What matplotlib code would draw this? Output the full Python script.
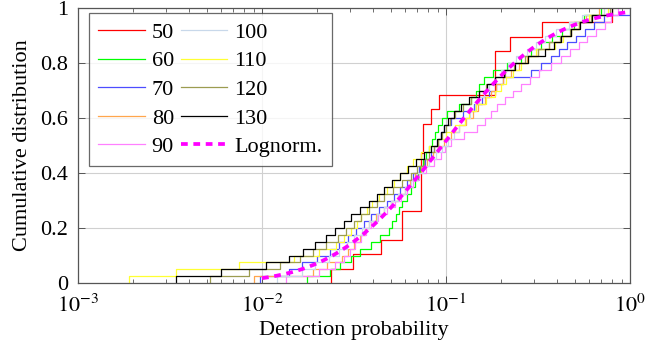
import numpy as np
import matplotlib
matplotlib.use("Agg")
import matplotlib.pyplot as plt
from matplotlib.ticker import LogLocator, NullFormatter, FixedLocator
from math import erf, sqrt

# ---- data: detection-probability samples per series ----
labels = ["50", "60", "70", "80", "90", "100", "110", "120", "130"]

s50 = [0.0237, 0.0313, 0.0444, 0.0577, 0.0577, 0.0730, 0.0730, 0.0730, 0.0730,
       0.0750, 0.0750, 0.0826, 0.092, 0.1845, 0.1845, 0.1845, 0.2228, 0.331, 0.798]

s60 = [0.0175, 0.0235, 0.0265, 0.0305, 0.0340, 0.0390, 0.0440, 0.0490, 0.0510, 0.0535,
       0.0555, 0.0575, 0.0610, 0.0645, 0.0680, 0.0705, 0.0725, 0.0750, 0.0780, 0.0810,
       0.0835, 0.0870, 0.0910, 0.0955, 0.101, 0.118, 0.136, 0.145, 0.152, 0.160,
       0.180, 0.215, 0.255, 0.290, 0.330, 0.375, 0.425, 0.495, 0.560, 0.700]

s70 = [0.0098, 0.0140, 0.0165, 0.0200, 0.0235, 0.0262, 0.0295, 0.0325, 0.0357, 0.0392,
       0.0435, 0.0480, 0.0520, 0.0565, 0.0610, 0.0660, 0.0715, 0.0770, 0.0825, 0.0865,
       0.0905, 0.0945, 0.0980, 0.106, 0.123, 0.142, 0.157, 0.172, 0.186, 0.203,
       0.290, 0.330, 0.370, 0.410, 0.455, 0.510, 0.570, 0.640, 0.720, 1.0]

s80 = [0.0090, 0.0190, 0.0225, 0.0272, 0.0295, 0.0318, 0.0340, 0.0362, 0.0380, 0.0415,
       0.0460, 0.0505, 0.0550, 0.0595, 0.0640, 0.0680, 0.0730, 0.0790, 0.0850, 0.0900,
       0.0970, 0.107, 0.117, 0.129, 0.140, 0.150, 0.162, 0.175, 0.188, 0.205,
       0.225, 0.250, 0.275, 0.315, 0.365, 0.420, 0.475, 0.525, 0.580, 0.680]

s90 = [0.0135, 0.0204, 0.0250, 0.0278, 0.0300, 0.0322, 0.0345, 0.0367, 0.0390, 0.0425,
       0.0475, 0.0525, 0.0570, 0.0615, 0.0665, 0.0715, 0.0775, 0.0860, 0.0935, 0.0990,
       0.106, 0.125, 0.147, 0.163, 0.176, 0.190, 0.208, 0.230, 0.255, 0.285,
       0.320, 0.370, 0.420, 0.470, 0.525, 0.585, 0.650, 0.730, 0.790, 0.860]

s100 = [0.0120, 0.0165, 0.0195, 0.0232, 0.0262, 0.0290, 0.0318, 0.0348, 0.0380, 0.0420,
        0.0460, 0.0505, 0.0550, 0.0600, 0.0645, 0.0695, 0.0750, 0.0810, 0.0880, 0.0950,
        0.102, 0.110, 0.118, 0.127, 0.135, 0.144, 0.152, 0.161, 0.171, 0.185,
        0.200, 0.218, 0.240, 0.275, 0.310, 0.345, 0.395, 0.465, 0.550, 0.720]

s110 = [0.0019, 0.0034, 0.0075, 0.0150, 0.0205, 0.0252, 0.0280, 0.0305, 0.0327, 0.0345,
        0.0372, 0.0398, 0.0435, 0.0475, 0.0520, 0.0565, 0.0615, 0.0665, 0.0730, 0.0810,
        0.0900, 0.100, 0.112, 0.127, 0.134, 0.145, 0.165, 0.185, 0.198, 0.212,
        0.232, 0.255, 0.278, 0.310, 0.390, 0.435, 0.480, 0.530, 0.600, 0.760]

s120 = [0.0052, 0.0085, 0.0125, 0.0160, 0.0190, 0.0222, 0.0258, 0.0285, 0.0315, 0.0346,
        0.0380, 0.0420, 0.0460, 0.0515, 0.0575, 0.0645, 0.0700, 0.0755, 0.0810, 0.0860,
        0.0905, 0.0950, 0.0995, 0.105, 0.112, 0.123, 0.136, 0.151, 0.166, 0.185,
        0.208, 0.235, 0.270, 0.315, 0.365, 0.415, 0.470, 0.530, 0.610, 0.780]

s130 = [0.0034, 0.0060, 0.0105, 0.0140, 0.0168, 0.0195, 0.0222, 0.0250, 0.0278, 0.0306,
        0.0340, 0.0380, 0.0422, 0.0463, 0.0511, 0.0564, 0.0623, 0.0688, 0.0758, 0.0833,
        0.0893, 0.0937, 0.0981, 0.103, 0.110, 0.121, 0.134, 0.151, 0.167, 0.184,
        0.207, 0.237, 0.280, 0.345, 0.386, 0.424, 0.475, 0.537, 0.625, 0.800]

series = [s50, s60, s70, s80, s90, s100, s110, s120, s130]
colors = ["#ff0000", "#00ff00", "#4d4dff", "#ffa64d", "#ff80ff",
          "#c8d8ea", "#ffff33", "#9c9c50", "#000000"]

# lognormal fit (parameters of log10 of detection probability)
logn_mu = -1.02
logn_sigma = 0.465
logn_label = "Lognorm."

xticks = [1e-3, 1e-2, 1e-1, 1e0]
xtick_labels = [r"$10^{-3}$", r"$10^{-2}$", r"$10^{-1}$", r"$10^{0}$"]
yticks = [0, 0.2, 0.4, 0.6, 0.8, 1.0]
ytick_labels = ["0", "0.2", "0.4", "0.6", "0.8", "1"]

# ---- style ----
plt.rcParams["font.family"] = ["Liberation Serif", "DejaVu Serif"]
plt.rcParams["mathtext.fontset"] = "stix"
plt.rcParams["font.size"] = 16

fig = plt.figure(figsize=(6.45, 3.56), dpi=100)
ax = fig.add_axes([78 / 645, 1 - 283 / 356, (630 - 78) / 645, (283 - 8) / 356])

for lab, s, c in zip(labels, series, colors):
    xs = np.sort(np.asarray(s, dtype=float))
    n = len(xs)
    ys = np.arange(1, n + 1) / n
    ax.plot(np.r_[xs[0], xs], np.r_[0.0, ys], drawstyle="steps-post",
            color=c, lw=0.9, label=lab)

pgrid = np.logspace(-2, 0, 200)
Fl = np.array([0.5 * (1 + erf((np.log10(p) - logn_mu) / (logn_sigma * sqrt(2)))) for p in pgrid])
ax.plot(pgrid, Fl, color="#ff00ff", lw=2.7, linestyle=(0, (1.8, 1.5)), label=logn_label)

ax.set_xscale("log")
ax.set_xlim(1e-3, 1)
ax.set_ylim(0, 1)
ax.xaxis.set_major_locator(FixedLocator(xticks))
ax.set_xticklabels(xtick_labels)
ax.xaxis.set_minor_locator(LogLocator(base=10, subs=np.arange(2, 10)))
ax.xaxis.set_minor_formatter(NullFormatter())
ax.set_yticks(yticks)
ax.set_yticklabels(ytick_labels)

ax.grid(True, which="major", color="#d0d0d0", lw=0.8)
ax.set_axisbelow(True)
ax.tick_params(which="both", direction="in", top=True, right=True, color="#555555")
ax.tick_params(which="major", length=5, width=0.7)
ax.tick_params(axis="y", which="major", pad=7)
ax.tick_params(axis="x", which="major", pad=8)
ax.tick_params(which="minor", length=3, width=0.6)
for sp in ax.spines.values():
    sp.set_color("#555555")
    sp.set_linewidth(0.9)

ax.set_xlabel("Detection probability", labelpad=3)
ax.set_ylabel("Cumulative distribution", labelpad=6)

leg = ax.legend(ncol=2, loc="upper left", bbox_to_anchor=(0.02, 0.982),
                frameon=True, fancybox=False, edgecolor="#444444",
                handlelength=2.1, handletextpad=0.3, columnspacing=0.3,
                labelspacing=0.36, borderpad=0.42, borderaxespad=0.0)
leg.get_frame().set_linewidth(0.9)

fig.savefig("out.png", dpi=100)
